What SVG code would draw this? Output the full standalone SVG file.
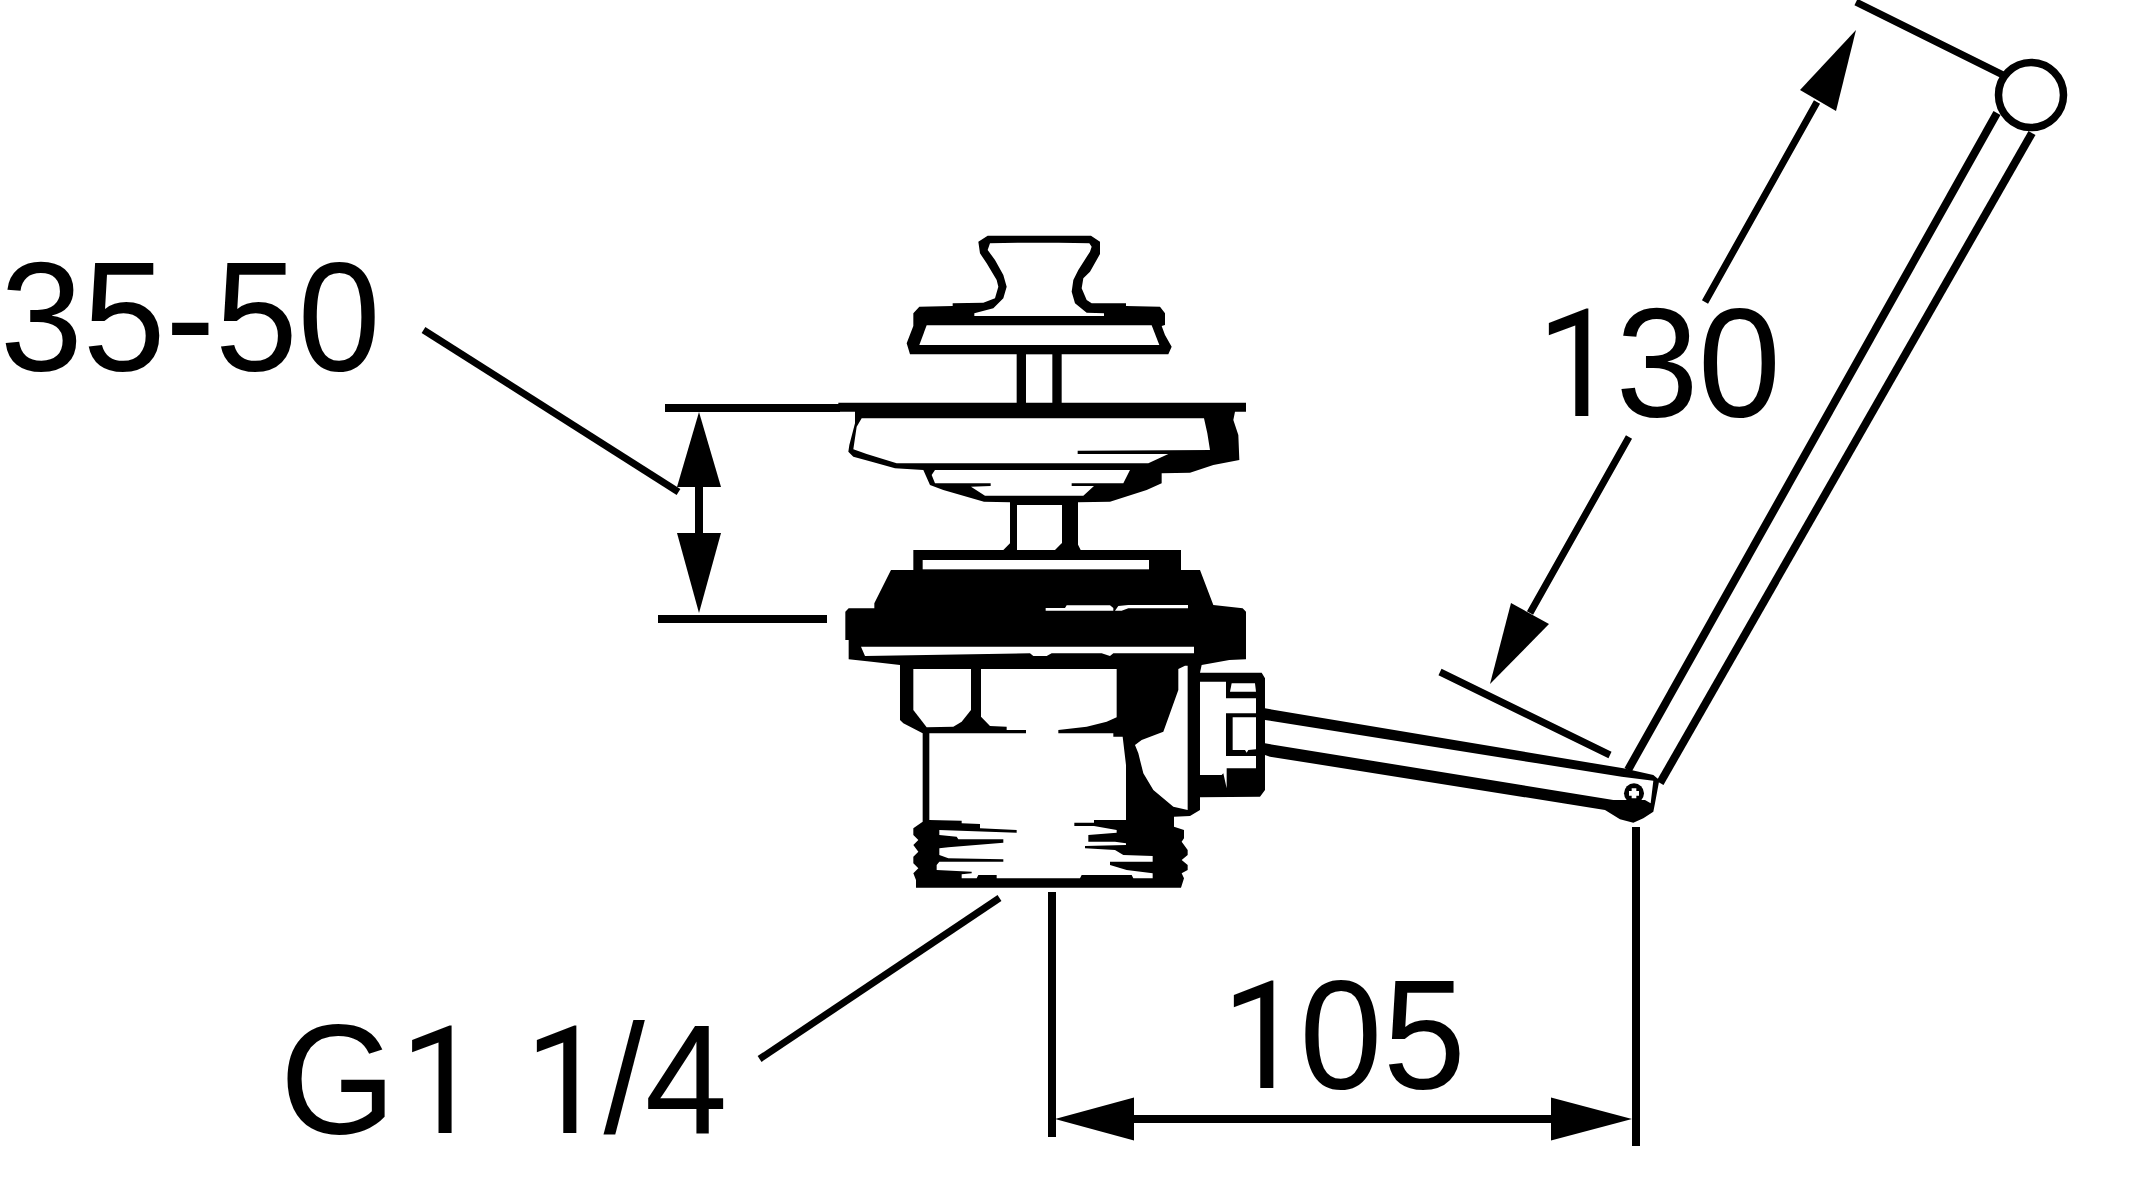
<svg xmlns="http://www.w3.org/2000/svg" width="2137" height="1181" viewBox="0 0 2137 1181">
<style>
.k{fill:#000}
.w{fill:#fff}
.d{stroke:#000;stroke-width:7;fill:none}
.a{stroke:#000;stroke-width:8;fill:none}
text{font-family:"Liberation Sans",Arial,sans-serif;font-size:155px;fill:#000}
.o{font-family:Roboto,"Liberation Sans",sans-serif;font-size:151px}
</style>
<rect width="2137" height="1181" fill="#fff"/>
<g id="knob" transform="translate(800 200) scale(.33333)">
<polygon class="k" points="563,107 873,107 900,125 900,162 870,215 850,235 845,265 860,300 875,310 978,310 978,318 1080,320 1095,340 1095,375 1085,378 1095,405 1115,440 1105,463 785,463 785,620 650,620 650,463 330,463 320,430 340,378 340,340 358,320 458,318 458,310 550,308 585,295 595,260 590,240 560,190 540,160 535,125"/>
<polygon class="w" points="570,130 668,128 775,128 868,130 875,140 870,155 835,210 820,240 815,275 825,310 860,338 912,340 912,348 523,348 523,340 580,325 610,295 620,260 610,225 585,180 563,150"/>
<polygon class="w" points="380,376 1055,376 1078,435 358,435"/>
<rect class="w" x="678" y="463" width="79" height="150"/>
</g>
<g id="plate" transform="translate(800 200) scale(.33333)">
<polygon class="k" points="115,608 1338,608 1338,635 1305,635 1300,660 1315,705 1318,780 1240,795 1170,818 1085,820 1085,850 1040,870 930,905 833,907 833,960 630,960 630,907 552,905 430,870 390,855 370,810 285,805 215,785 160,770 145,755 148,735 165,670 165,635 115,635"/>
<polygon class="w" points="185,655 1212,655 1222,700 1230,750 833,752 833,762 1105,762 1045,790 290,790 200,762 160,748 170,680"/>
<polygon class="w" points="405,810 990,810 970,850 815,850 815,858 882,858 850,887 555,887 513,860 572,858 572,850 405,850 395,825"/>
</g>
<g id="stem">
<rect class="k" x="1010" y="500" width="68" height="52"/>
<rect class="w" x="1017" y="505" width="45" height="50"/>
</g>
<g id="body" transform="translate(820 520) scale(.33333)">
<polygon class="k" points="280,90 550,90 570,70 590,70 590,90 705,90 725,70 772,70 782,90 1083,90 1083,150 1140,150 1180,255 1268,265 1278,275 1278,418 1228,420 1145,435 1140,458 1325,458 1335,475 1335,810 1320,830 1140,832 1140,870 1110,888 1062,890 1062,920 1092,930 1092,955 1085,965 1103,990 1103,1005 1085,1020 1103,1035 1103,1050 1085,1060 1092,1075 1083,1103 288,1103 288,1080 280,1060 295,1045 280,1030 280,1010 295,995 280,975 295,960 280,945 280,925 308,905 308,640 250,610 240,600 240,435 155,425 86,418 86,360 76,360 76,275 86,265 163,265 163,250 213,150 280,150"/>
<rect class="w" x="308" y="120" width="679" height="28"/>
<polygon class="w" points="677,264 735,264 740,256 870,256 880,264 880,272 677,272"/>
<polygon class="w" points="885,272 895,258 925,255 1104,255 1104,265 925,265 905,272"/>
<polygon class="w" points="123,380 1122,380 1122,400 880,400 870,408 845,400 695,400 680,408 640,408 630,400 135,408"/>
<polygon class="w" points="280,447 453,447 453,570 425,605 400,620 320,622 280,570"/>
<polygon class="w" points="483,447 890,447 890,592 860,605 800,620 715,630 715,640 880,640 880,650 908,650 918,735 918,900 822,900 822,908 763,908 763,918 822,918 890,930 890,938 805,945 805,965 885,965 918,970 918,975 795,978 795,985 885,990 910,1005 998,1008 998,1025 870,1025 870,1035 920,1050 998,1060 998,1075 940,1075 935,1065 785,1065 780,1075 530,1075 530,1065 475,1065 470,1075 425,1075 425,1063 455,1060 455,1055 350,1050 350,1035 358,1025 550,1025 550,1018 385,1015 358,1005 358,985 385,982 550,968 550,958 415,958 410,950 358,945 358,930 590,938 590,930 480,925 480,912 425,910 425,902 328,900 328,640 618,640 618,630 560,630 560,620 510,618 483,590"/>
<polygon class="w" points="945,675 965,660 1030,635 1050,580 1075,510 1075,447 1095,437 1103,437 1103,870 1060,860 1000,810 970,760 955,700"/>
<polygon class="w" points="1140,485 1218,485 1218,535 1308,535 1308,580 1218,580 1218,708 1308,708 1308,745 1220,745 1220,805 1210,760 1205,765 1140,765"/>
<polygon class="w" points="1235,490 1305,490 1308,515 1230,515"/>
<polygon class="w" points="1238,592 1308,592 1308,688 1285,690 1280,698 1275,690 1238,690"/>
</g>
<g id="lever" transform="translate(1180 640) scale(.33333)">
<polygon class="k" points="255,205 1330,385 1420,405 1438,420 1425,490 1420,515 1390,535 1360,548 1320,538 1275,510 270,350 255,345"/>
<polygon class="w" points="255,240 1325,410 1420,422 1412,490 1395,480 1300,480 255,310"/>
<circle class="k" cx="1362" cy="460" r="30"/>
<path class="w" d="M1355 445h14v8h8v14h-8v8h-14v-8h-8v-14h8z"/>
</g>
<g id="arm">
<path class="a" d="M1628 770L1997 113"/>
<path class="a" d="M1660 783L2032 133"/>
<circle cx="2031" cy="95" r="32.500" fill="#fff" stroke="#000" stroke-width="7.500"/>
</g>
<g id="connectors">
<path class="d" d="M1856 2L2003 75M1440 672L1610 755"/>
<path class="d" d="M1817 102L1705 302M1629 437L1530 613"/>
<polygon class="k" points="1856,30 1800,90 1836,111"/>
<polygon class="k" points="1490,684 1511,603 1549,624"/>
<path class="d" d="M665 408H840" style="stroke-width:8"/>
<path class="d" d="M658 619H827" style="stroke-width:8"/>
<path class="d" d="M699 487V533" style="stroke-width:8"/>
<polygon class="k" points="699,412 677,487 721,487"/>
<polygon class="k" points="699,613 677,533 721,533"/>
<path class="d" d="M423.500 330L678.500 492"/>
<path class="d" d="M999.500 898L759.600 1059"/>
<path class="d" d="M1052 892V1137M1636 827V1146" style="stroke-width:8"/>
<path class="d" d="M1134 1119H1551" style="stroke-width:8"/>
<polygon class="k" points="1055,1119 1134,1097.500 1134,1140.500"/>
<polygon class="k" points="1632,1119 1551,1097.500 1551,1140.500"/>
</g>
<g id="labels">
<text transform="translate(0 370) scale(.96 1)">35-50</text>
<text transform="translate(1530 416) scale(.96 1)" x="7 89.300 175"><tspan class="o">1</tspan>30</text>
<text transform="translate(1215 1088) scale(.96 1)" x="7 88.100 175"><tspan class="o">1</tspan>05</text>
<text transform="translate(280 1133) scale(.96 1)" x="0 125 200 255 337 380" xml:space="preserve">G<tspan class="o">1</tspan> <tspan class="o">1</tspan>/4</text>
</g>
</svg>
